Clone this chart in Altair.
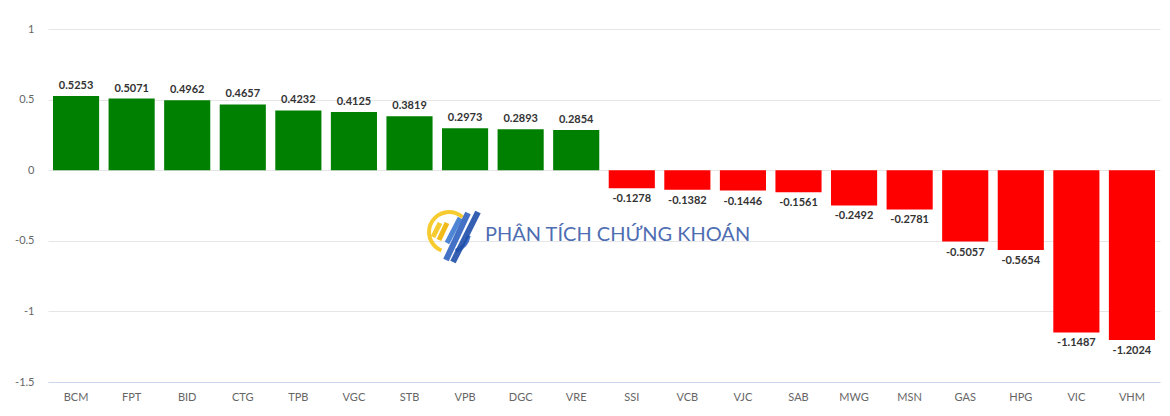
import altair as alt
import pandas as pd

tickers = ["BCM", "FPT", "BID", "CTG", "TPB", "VGC", "STB", "VPB", "DGC", "VRE",
           "SSI", "VCB", "VJC", "SAB", "MWG", "MSN", "GAS", "HPG", "VIC", "VHM"]
values = [0.5253, 0.5071, 0.4962, 0.4657, 0.4232, 0.4125, 0.3819, 0.2973, 0.2893, 0.2854,
          -0.1278, -0.1382, -0.1446, -0.1561, -0.2492, -0.2781, -0.5057, -0.5654, -1.1487, -1.2024]

df = pd.DataFrame({"ticker": tickers, "value": values})
df["label"] = [f"{v:.4f}" for v in values]

FONT = "Lato"

x = alt.X("ticker:N", sort=tickers, title=None,
          scale=alt.Scale(paddingInner=0.17, paddingOuter=0.09),
          axis=alt.Axis(labelAngle=0, labelColor="#666666", labelFontSize=11, labelFont=FONT,
                        domainColor="#ccd6eb", ticks=False, labelPadding=9, grid=False))
y = alt.Y("value:Q", title=None,
          scale=alt.Scale(domain=[-1.5, 1], nice=False),
          axis=alt.Axis(values=[-1.5, -1, -0.5, 0, 0.5, 1], labelColor="#666666", labelFontSize=11,
                        labelFont=FONT, domain=False, ticks=False, labelPadding=14,
                        gridColor="#e6e6e6", labelExpr="datum.value"))

bars = alt.Chart(df).mark_bar().encode(
    x=x, y=y, y2=alt.datum(0),
    color=alt.condition("datum.value >= 0", alt.value("#008000"), alt.value("#ff0000")),
)

pos = alt.Chart(df).transform_filter("datum.value >= 0").mark_text(
    baseline="bottom", dy=-5, fontWeight="bold", fontSize=11, color="#333333", font=FONT
).encode(x=x, y=y, text="label:N")

neg = alt.Chart(df).transform_filter("datum.value < 0").mark_text(
    baseline="top", dy=5, fontWeight="bold", fontSize=11, color="#333333", font=FONT
).encode(x=x, y=y, text="label:N")

# watermark (decoration)
wm = pd.DataFrame({"t": ["PHÂN TÍCH CHỨNG KHOÁN"]})
watermark = alt.Chart(wm).mark_text(
    fontSize=20, color="#3b5eab", font=FONT, align="left", baseline="middle", opacity=0.9
).encode(x=alt.value(437), y=alt.value(206), text="t:N")

ring_y = alt.Chart(wm).mark_arc(color="#f5c518", innerRadius=18, outerRadius=22, opacity=0.9,
                                 theta=3.53, theta2=7.03).encode(
    x=alt.value(401), y=alt.value(203))
ring_b = alt.Chart(wm).mark_arc(color="#2d62c0", innerRadius=18, outerRadius=22, opacity=0.9,
                                 theta=1.75, theta2=2.8).encode(
    x=alt.value(401), y=alt.value(203))

strokes = []
for (x1, y1, x2, y2, c, w) in [(385, 208, 392, 194, "#f5c518", 5),
                               (391, 211, 399, 194, "#f0b400", 5),
                               (399, 214, 412, 189, "#3b78d0", 5),
                               (398, 231, 420, 184, "#2d62c0", 6),
                               (405, 233, 430, 183, "#1f4ea8", 6)]:
    strokes.append(alt.Chart(wm).mark_rule(color=c, strokeWidth=w, opacity=0.9).encode(
        x=alt.value(x1), y=alt.value(y1), x2=alt.value(x2), y2=alt.value(y2)))

chart = alt.layer(bars, pos, neg, ring_y, ring_b, *strokes, watermark).properties(
    width=1112, height=353,
    autosize=alt.AutoSizeParams(type="none"),
    padding={"left": 40, "top": 21, "right": 2, "bottom": 26},
).configure_view(stroke=None)

chart.save("out.html", embed_options={"renderer": "svg", "actions": False})
